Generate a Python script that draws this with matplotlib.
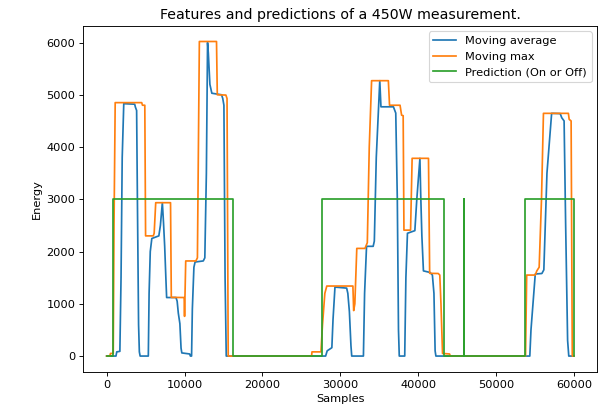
import matplotlib
matplotlib.use("Agg")
import matplotlib.pyplot as plt

# moving average (blue) - breakpoints
avg_x = [0, 1200, 1300, 1700, 1850, 2000, 2200, 3600, 3700, 3850, 3950, 4100, 4200, 4300,
         5350, 5450, 5600, 5800, 6700, 6900, 7150, 7300, 7450, 7600, 7700, 8900, 9050, 9200,
         9400, 9550, 9650, 10650, 10750, 10900, 11000, 11200, 11350, 12400, 12600, 12800,
         12950, 13050, 13250, 13500, 14750, 14900, 15050, 15200, 15350,
         28100, 28300, 28900, 29050, 29300, 30800, 30950, 31150, 31350, 31450,
         32950, 33100, 33350, 34200, 34350, 34600, 35050, 35200, 36800, 37100, 37300, 37450,
         37550, 38250, 38400, 38600, 39550, 39800, 40200, 40300, 40450, 40650, 41500, 41800,
         42000, 42150, 42250,
         54300, 54450, 55000, 55850, 56100, 56500, 57100, 58200, 58400, 58700, 58900, 59150,
         59300, 59950]
avg_y = [0, 0, 80, 90, 1500, 3800, 4830, 4820, 4760, 4700, 3000, 600, 80, 0,
         0, 1200, 2000, 2250, 2300, 2500, 2935, 2550, 2100, 1500, 1120, 1120, 1050, 820,
         620, 150, 60, 40, 0, 0, 900, 1700, 1800, 1820, 1880, 3500,
         6000, 5800, 5200, 5030, 5000, 4930, 4800, 1500, 0,
         0, 100, 160, 700, 1320, 1300, 1200, 850, 200, 0,
         0, 1200, 2100, 2100, 2200, 3800, 5270, 4770, 4770, 4650, 3000, 500,
         0, 0, 1500, 2350, 2400, 3000, 3784, 3100, 2300, 1630, 1600, 1550,
         1200, 100, 0,
         0, 500, 1570, 1580, 1650, 3500, 4645, 4640, 4560, 4500, 2500, 300,
         0, 0]

# moving max (orange)
max_x = [0, 400, 500, 850, 950, 1100, 4500, 4600, 4900, 5000, 5990, 6100, 6300, 8200, 8300,
         9950, 10000, 10050, 10150, 11450, 11650, 11900, 14100, 14200, 15300, 15450, 15600,
         26300, 26350, 27500, 27700, 28000, 28250, 31600, 31700, 31850, 32100, 33150, 33450,
         33700, 34000, 36150, 36300, 37650, 37850, 38050, 38150, 39000, 39200, 41300, 41450,
         42550, 42750, 42900, 43100, 44000, 44100,
         53750, 53900, 55000, 55200, 55500, 55800, 56050, 59250, 59350, 59600, 59750, 59950]
max_y = [0, 0, 50, 50, 2500, 4850, 4850, 4800, 4800, 2300, 2300, 2350, 2935, 2935, 1123,
         1120, 760, 1120, 1820, 1820, 1880, 6020, 6020, 5000, 4995, 4930, 0,
         0, 80, 80, 600, 1200, 1340, 1340, 870, 1000, 2060, 2060, 2170,
         4000, 5270, 5270, 4800, 4800, 4610, 4600, 2410, 2410, 3784, 3784, 1583,
         1580, 1550, 1000, 50, 40, 0,
         0, 1550, 1550, 1630, 1700, 3000, 4645, 4645, 4530, 4500, 0, 0]

# prediction (green), 3000 = on
pred_x = [0, 850, 850, 16200, 16200, 27600, 27600, 43350, 43350, 45800, 45800, 45800,
          53700, 53700, 59950, 59950]
pred_y = [0, 0, 3000, 3000, 0, 0, 3000, 3000, 0, 0, 3000, 0,
          0, 3000, 3000, 0]

fig = plt.figure(figsize=(599/82, 409/82), dpi=82)
ax = fig.add_axes([0.139, 0.091, 0.858, 0.846])
ax.plot(avg_x, avg_y, label="Moving average")
ax.plot(max_x, max_y, label="Moving max")
ax.plot(pred_x, pred_y, label="Prediction (On or Off)")
ax.set_title("Features and predictions of a 450W measurement.", fontsize=12.4)
ax.set_xlabel("Samples")
ax.set_ylabel("Energy")
ax.legend(loc="upper right")
fig.savefig("out.png", dpi=82)
